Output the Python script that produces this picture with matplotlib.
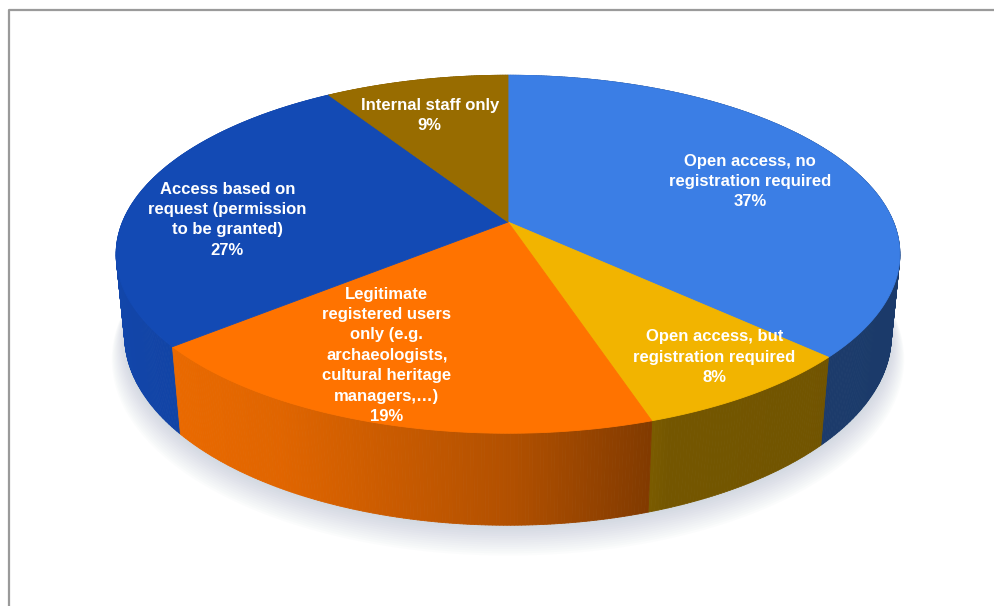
import matplotlib.pyplot as plt
import numpy as np
from matplotlib.collections import PolyCollection
from matplotlib.patches import Polygon

# slices, clockwise from 12 o'clock
labels = [
    "Open access, no\nregistration required",
    "Open access, but\nregistration required",
    "Legitimate\nregistered users\nonly (e.g.\narchaeologists,\ncultural heritage\nmanagers,…)",
    "Access based on\nrequest (permission\nto be granted)",
    "Internal staff only",
]
shares = [37, 8, 19, 27, 9]
colors = ["#3b7ee5", "#f2b400", "#ff7300", "#134ab4", "#986c00"]

# label anchor: radius on the disc and small angular nudge (deg)
label_r = [0.70, 0.83, 0.73, 0.73, 0.73]
label_nudge = [3, -2, 6, -8, -2]

# camera for the tilted disc
ELEV = np.radians(26.7)
DIST = 4.96
SCALE = 1912
APEX = (508, 222)
THICK = 0.238


def project(phi, r=1.0, h=0.0):
    u = r * np.sin(phi)
    w = -r * np.cos(phi)
    depth = DIST - h * np.sin(ELEV) - w * np.cos(ELEV)
    sx = APEX[0] + SCALE * u / depth
    sy = APEX[1] - SCALE * (h * np.cos(ELEV) - w * np.sin(ELEV)) / depth
    return sx, sy, depth


def shade(hex_color, u):
    # light comes from the left, right-hand wall is darker
    f = np.interp(u, [-1, -0.5, 0, 0.35, 1], [0.95, 0.88, 0.70, 0.48, 0.46])
    rgb = np.array([int(hex_color[i:i + 2], 16) for i in (1, 3, 5)]) / 255
    return tuple(rgb * f)


fig = plt.figure(figsize=(9.94, 6.06), dpi=100)
ax = fig.add_axes([0, 0, 1, 1])
ax.set_xlim(0, 994)
ax.set_ylim(606, 0)
ax.axis("off")

# outer frame
ax.plot([8.5, 8.5, 994], [606, 9.5, 9.5], color="#9a9a9a", lw=1.6)

edges = 2 * np.pi * np.concatenate([[0], np.cumsum(shares)]) / sum(shares)

# soft shadow under the disc
full = np.linspace(0, 2 * np.pi, 361)
for k in range(14):
    sx, sy, _ = project(full, r=1.0 + 0.0025 * k, h=-THICK)
    ax.add_patch(Polygon(np.column_stack([sx, sy + 2 + 1.5 * k]),
                         closed=True, facecolor="#8a9ab2", edgecolor="none",
                         alpha=0.028, zorder=1))

# outer wall, drawn back to front
quads, fcols, depths = [], [], []
for i, col in enumerate(colors):
    phis = np.linspace(edges[i], edges[i + 1], max(int(shares[i] * 8), 4))
    for a, b in zip(phis[:-1], phis[1:]):
        x1, y1, d1 = project(a)
        x2, y2, d2 = project(b)
        x3, y3, _ = project(b, h=-THICK)
        x4, y4, _ = project(a, h=-THICK)
        quads.append([(x1, y1), (x2, y2), (x3, y3), (x4, y4)])
        fcols.append(shade(col, np.sin((a + b) / 2)))
        depths.append((d1 + d2) / 2)
order = np.argsort(depths)[::-1]
wall = PolyCollection([quads[j] for j in order],
                      facecolors=[fcols[j] for j in order],
                      edgecolors=[fcols[j] for j in order],
                      linewidths=0.6, zorder=2)
ax.add_collection(wall)

# top face
for i, col in enumerate(colors):
    phis = np.linspace(edges[i], edges[i + 1], max(int(shares[i] * 8), 4))
    sx, sy, _ = project(phis)
    pts = np.vstack([[APEX], np.column_stack([sx, sy])])
    ax.add_patch(Polygon(pts, closed=True, facecolor=col, edgecolor=col,
                         lw=0.6, zorder=3))

# data labels
for i, lab in enumerate(labels):
    mid = (edges[i] + edges[i + 1]) / 2 + np.radians(label_nudge[i])
    lx, ly, _ = project(mid, r=label_r[i])
    ax.text(lx, ly, f"{lab}\n{shares[i]}%", ha="center", va="center",
            multialignment="center", color="white", fontsize=12,
            fontweight="bold", family=["Liberation Sans", "DejaVu Sans"],
            linespacing=1.45, zorder=4)

fig.savefig("out.png", dpi=100)
